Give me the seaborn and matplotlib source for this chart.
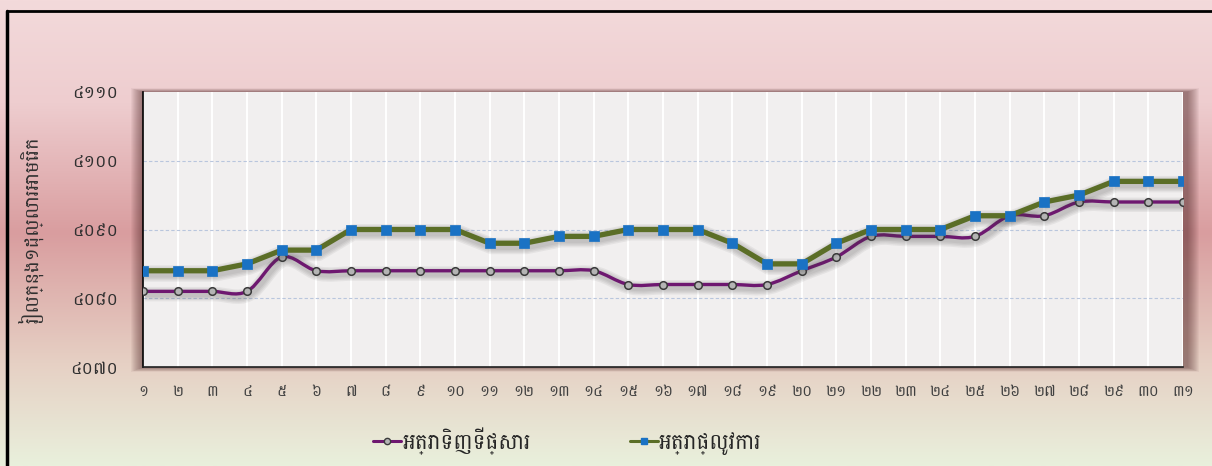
import numpy as np
import pandas as pd
import seaborn as sns
import matplotlib
matplotlib.use("Agg")
import matplotlib.pyplot as plt
import matplotlib.patheffects as pe
from matplotlib.path import Path
from matplotlib.patches import PathPatch, Rectangle
from matplotlib.colors import LinearSegmentedColormap
from matplotlib.lines import Line2D

# data (riel per US dollar, by day of month)
days = list(range(1, 32))
market_rate = [4081, 4081, 4081, 4081, 4086, 4084, 4084, 4084, 4084, 4084,
               4084, 4084, 4084, 4084, 4082, 4082, 4082, 4082, 4082, 4084,
               4086, 4089, 4089, 4089, 4089, 4092, 4092, 4094, 4094, 4094, 4094]
official_rate = [4084, 4084, 4084, 4085, 4087, 4087, 4090, 4090, 4090, 4090,
                 4088, 4088, 4089, 4089, 4090, 4090, 4090, 4088, 4085, 4085,
                 4088, 4090, 4090, 4090, 4092, 4092, 4094, 4095, 4097, 4097, 4097]
y_ticks = [4070, 4080, 4090, 4100, 4110]
market_name = "អត្រាទិញទីផ្សារ"
official_name = "អត្រាផ្លូវការ"
y_title = "រៀលក្នុង១ដុល្លារអាមេរិក"

khmer_digits = str.maketrans("0123456789", "០១២៣៤៥៦៧៨៩")
day_labels = [str(d).translate(khmer_digits) for d in days]
y_labels = [str(v).translate(khmer_digits) for v in y_ticks]

df = pd.DataFrame({"day": days, "market": market_rate, "official": official_rate})

sns.set_style("white")
plt.rcParams['font.family'] = ['Battambang', 'DejaVu Sans']

W, H = 1212, 466
fig = plt.figure(figsize=(W / 100, H / 100), dpi=100)

# background gradient
bg = fig.add_axes([0, 0, 1, 1], zorder=-10)
bg.set_axis_off()
cmap = LinearSegmentedColormap.from_list("bg", [
    (0.0, "#f3dadb"), (0.22, "#eecdcf"), (0.5, "#d99d9f"),
    (0.78, "#e6d0c4"), (1.0, "#e9f0dc")])
grad = np.linspace(0, 1, 256).reshape(-1, 1)
bg.imshow(grad, aspect="auto", cmap=cmap, extent=[0, 1, 0, 1], origin="upper")
bg.set_xlim(0, 1)
bg.set_ylim(0, 1)

# soft shadow behind plot area
x0, x1, y0, y1 = 143, 1183, 92, 367
for i in range(12, 0, -1):
    bg.add_patch(Rectangle(((x0 - i) / W, 1 - (y1 + i * 0.4) / H),
                           (x1 - x0 + 2 * i + 4) / W, (y1 - y0 + i * 0.7) / H,
                           color="#4a2020", alpha=0.05, lw=0))

# frame
bg.plot([7 / W, 7 / W], [0, 1 - 11 / H], color="black", lw=2.5)
bg.plot([7 / W, 1], [1 - 11 / H, 1 - 11 / H], color="black", lw=2)

ax = fig.add_axes([x0 / W, 1 - y1 / H, (x1 - x0) / W, (y1 - y0) / H])
ax.set_facecolor("#f1efef")


def soft_shadow(base):
    fx = [pe.SimpleLineShadow(offset=(1.5, -2), shadow_color="#404040", alpha=0.07,
                              linewidth=base + w) for w in (8, 6, 4, 2)]
    return fx + [pe.Normal()]


# market rate: smoothed curve
pts = np.column_stack([days, market_rate]).astype(float)
verts = [pts[0]]
codes = [Path.MOVETO]
for i in range(len(pts) - 1):
    p0 = pts[i - 1] if i > 0 else pts[i]
    p1, p2 = pts[i], pts[i + 1]
    p3 = pts[i + 2] if i + 2 < len(pts) else pts[i + 1]
    verts += [p1 + (p2 - p0) / 6, p2 - (p3 - p1) / 6, p2]
    codes += [Path.CURVE4] * 3
curve = PathPatch(Path(verts, codes), fill=False, edgecolor="#6e1870", lw=2.4, zorder=3)
curve.set_path_effects(soft_shadow(2.4))
ax.add_patch(curve)
sns.scatterplot(data=df, x="day", y="market", ax=ax, marker="o", s=30,
                color="#b4b4b4", edgecolor="#3a3a3a", linewidth=1.1, zorder=4)

# official rate
sns.lineplot(data=df, x="day", y="official", ax=ax, color="#5b6e27", lw=3.8,
             zorder=5, path_effects=soft_shadow(3.8))
sns.scatterplot(data=df, x="day", y="official", ax=ax, marker="s", s=48,
                color="#1a72c4", edgecolor="#1a72c4", linewidth=0.5, zorder=6)

ax.set_xlim(1, 31)
ax.set_ylim(4070, 4110)
ax.set_xticks(days)
ax.set_xticklabels(day_labels)
ax.set_yticks(y_ticks)
ax.set_yticklabels(y_labels)
ax.set_xlabel("")
ax.set_ylabel(y_title, fontsize=14, color="#303030", labelpad=18)

for d in days:
    ax.axvline(d, color="white", lw=1.4, zorder=1)
for v in y_ticks[1:-1]:
    ax.axhline(v, color="#b9c6dd", lw=0.8, ls=(0, (3, 2)), zorder=1)

for s in ["top", "right"]:
    ax.spines[s].set_visible(False)
ax.spines["left"].set_color("black")
ax.spines["bottom"].set_color("#202020")
ax.spines["left"].set_linewidth(1.2)
ax.spines["bottom"].set_linewidth(1.2)
ax.tick_params(axis="y", direction="inout", length=14, width=1, colors="#303030",
               labelsize=12.5, pad=11)
ax.tick_params(axis="x", direction="out", length=5, width=1, colors="#404040",
               labelsize=11, pad=8)

handles = [Line2D([], [], color="#6e1870", lw=2.2, marker="o", markersize=4.5,
                  markerfacecolor="#b4b4b4", markeredgecolor="#3a3a3a"),
           Line2D([], [], color="#5b6e27", lw=2.2, marker="s", markersize=5,
                  markerfacecolor="#1a72c4", markeredgecolor="#1a72c4")]
fig.legend(handles, [market_name, official_name], loc="center",
           bbox_to_anchor=(0.468, 1 - 441 / H), ncol=2, frameon=False,
           fontsize=15.5, handlelength=1.3, handletextpad=0.05, columnspacing=4.6)

fig.savefig("out.png", dpi=100)
